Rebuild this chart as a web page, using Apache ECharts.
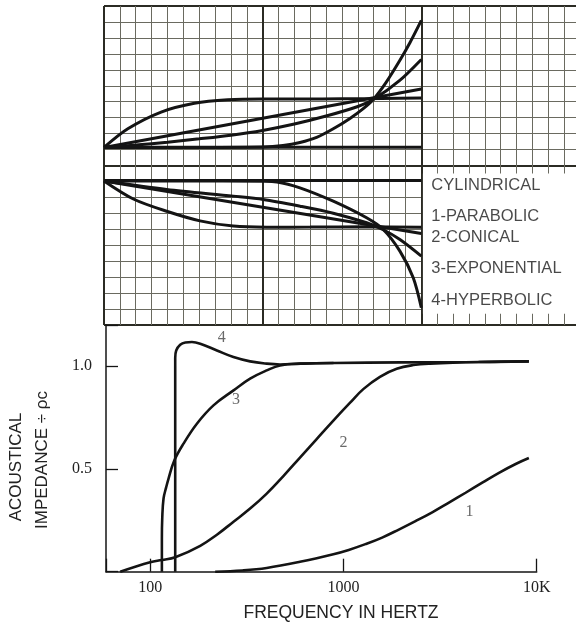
<!DOCTYPE html>
<html><head><meta charset="utf-8">
<script src="https://cdn.jsdelivr.net/npm/echarts@6/dist/echarts.min.js"></script>
<style>html,body{margin:0;padding:0;background:#fff}#c{width:576px;height:622px}</style>
</head><body><div id="c"></div><script>
// ---- Horn profiles (grid units: x along horn, y = radius, centre line at 0) ----
const cylUpper = [[0,1.15],[20,1.15]];
const cylLower = [[0,-0.94],[20,-0.94]];
const parUpper = [[0,1.13],[1.5,2.3],[3.6,3.35],[5.7,3.9],[7.8,4.12],[10,4.17],[12.5,4.17],[15,4.18],[17.5,4.2],[20,4.23]];
const parLower = [[0,-0.97],[1.85,-2.1],[3.95,-2.87],[6.05,-3.47],[8.15,-3.8],[10.25,-3.87],[13,-3.86],[16.5,-3.84],[20,-3.87]];
const conUpper = [[0,1.13],[20,4.80]];
const conLower = [[0,-0.97],[20,-4.26]];
const expUpper = [[0,1.13],[2,1.28],[4,1.46],[6,1.67],[8,1.9],[10,2.2],[12,2.6],[14,3.1],[16,3.7],[17,4.15],[18.6,5.3],[20,6.65]];
const expLower = [[0,-0.97],[3.95,-1.5],[8.15,-1.92],[10.04,-2.13],[12.35,-2.55],[14.45,-2.99],[16.55,-3.59],[17.6,-4.03],[18.65,-4.64],[20,-5.68]];
const hypUpper = [[0,1.13],[5,1.13],[10,1.16],[11.28,1.25],[12.35,1.44],[13.4,1.76],[14.45,2.3],[15.5,2.95],[16.32,3.55],[16.97,4.14],[17.77,5.2],[18.65,6.6],[19.28,7.7],[20,9.1]];
const hypLower = [[0,-0.97],[5,-0.97],[10,-0.99],[10.9,-1.03],[12.35,-1.40],[14.45,-2.24],[16.55,-3.28],[17.6,-4.01],[18.65,-5.37],[19.49,-7.04],[20,-8.92]];
const profileLabels = [[20.6,-1.27,'CYLINDRICAL'],[20.6,-3.18,'1-PARABOLIC'],[20.6,-4.53,'2-CONICAL'],[20.6,-6.46,'3-EXPONENTIAL'],[20.6,-8.46,'4-HYPERBOLIC']];

// ---- Acoustical impedance vs frequency (Hz, impedance / rho c) ----
const curve1 = [[217,0],[300,0.006],[401,0.018],[596,0.048],[887,0.085],[1065,0.106],[1300,0.134],[1586,0.166],[1935,0.205],[2360,0.246],[2880,0.289],[3514,0.336],[4287,0.384],[5230,0.433],[6380,0.481],[7784,0.524],[9110,0.553]];
const curve2 = [[70,0],[100,0.046],[115,0.057],[134.8,0.07],[181.6,0.126],[221.5,0.18],[270,0.243],[329,0.307],[401,0.38],[489,0.465],[596,0.555],[727,0.645],[887,0.735],[1083,0.822],[1267,0.888],[1545,0.948],[1886,0.987],[2300,1.005],[2805,1.012],[5000,1.02],[9110,1.023]];
const curve3 = [[115,0],[115,0.16],[115.5,0.26],[117.3,0.356],[121,0.41],[124.5,0.453],[133.2,0.54],[148.8,0.623],[174.5,0.72],[212.6,0.809],[270,0.882],[329,0.939],[401,0.979],[470,1.003],[600,1.012],[889,1.015]];
const curve4 = [[134.8,0],[134.8,0.6],[134.8,1.04],[136.4,1.076],[143,1.104],[152,1.115],[164.5,1.117],[181.6,1.109],[221.5,1.076],[269.7,1.044],[329,1.023],[401,1.012],[470,1.008],[600,1.012],[889,1.015],[2000,1.018],[5000,1.02],[9110,1.023]];
const curveLabels = [[235,1.138,'4'],[278,0.838,'3'],[1002,0.626,'2'],[4493,0.291,'1']];
const freqTicks = {100:'100',1000:'1000',10000:'10K'};
const impTicks = {'0.5':'0.5','1':'1.0'};

const INK = '#141414';
function horn(data){
  return {type:'line', xAxisIndex:0, yAxisIndex:0, data:data, symbol:'none', smooth:0.3,
    lineStyle:{color:INK, width:3}, silent:true, z:3};
}
function imp(data){
  return {type:'line', xAxisIndex:1, yAxisIndex:1, data:data, symbol:'none', smooth:0.4,
    lineStyle:{color:INK, width:2.6}, silent:true, z:3};
}
const chart = echarts.init(document.getElementById('c'), null, {renderer:'canvas'});
chart.setOption({
  animation:false,
  backgroundColor:'#fff',
  grid:[
    {left:104, top:6, right:-4, height:319, outerBoundsMode:'none', containLabel:false},
    {left:106, top:325, right:39.3, bottom:50.3, outerBoundsMode:'none', containLabel:false}
  ],
  xAxis:[
    {gridIndex:0, type:'value', min:0, max:30, interval:10,
      axisLine:{show:false}, axisTick:{show:false}, axisLabel:{show:false},
      splitLine:{show:true, lineStyle:{color:'#2b2b24', width:2}},
      minorTick:{show:false, splitNumber:10},
      minorSplitLine:{show:true, lineStyle:{color:'#6a6a60', width:1}}},
    {gridIndex:1, type:'log', logBase:10, min:59.1, max:10000,
      axisLine:{show:true, lineStyle:{color:INK, width:1.5}},
      axisTick:{show:true, inside:true, length:13, lineStyle:{color:INK, width:1.3}},
      axisLabel:{margin:8, color:'#222', fontFamily:'Liberation Serif', fontSize:16,
        formatter:function(v){const r=Math.round(v); return freqTicks[r]||'';}},
      splitLine:{show:false}, minorTick:{show:false}}
  ],
  yAxis:[
    {gridIndex:0, type:'value', min:-10, max:10, interval:10,
      axisLine:{show:false}, axisTick:{show:false}, axisLabel:{show:false},
      splitLine:{show:true, lineStyle:{color:'#2b2b24', width:2}},
      minorTick:{show:false, splitNumber:10},
      minorSplitLine:{show:true, lineStyle:{color:'#6a6a60', width:1}}},
    {gridIndex:1, type:'value', min:0, max:1.2, interval:0.5,
      axisLine:{show:true, lineStyle:{color:INK, width:1.5}},
      axisTick:{show:true, inside:true, length:12, lineStyle:{color:INK, width:1.3}},
      axisLabel:{margin:14, color:'#222', fontFamily:'Liberation Serif', fontSize:16,
        formatter:function(v){return impTicks[String(Math.round(v*10)/10)]||'';}},
      splitLine:{show:false}}
  ],
  graphic:[
    {type:'text', x:341, y:613, silent:true,
      style:{text:'FREQUENCY IN HERTZ', fontFamily:'Liberation Sans', fontSize:17.5, fill:'#222', textAlign:'center', textVerticalAlign:'middle'}},
    {type:'text', x:16, y:467, rotation:Math.PI/2, silent:true,
      style:{text:'ACOUSTICAL', fontFamily:'Liberation Sans', fontSize:17, fill:'#222', textAlign:'center', textVerticalAlign:'middle'}},
    {type:'text', x:42, y:460, rotation:Math.PI/2, silent:true,
      style:{text:'IMPEDANCE ÷ ρc', fontFamily:'Liberation Sans', fontSize:17, fill:'#222', textAlign:'center', textVerticalAlign:'middle'}}
  ],
  series:[
    {type:'line', xAxisIndex:0, yAxisIndex:0, data:[], symbol:'none', silent:true, z:1,
      markArea:{silent:true, itemStyle:{color:'#ffffff', opacity:1},
        data:[[{coord:[20.1,-0.5]},{coord:[30,-9.3]}]]}},
    horn(cylUpper), horn(cylLower),
    horn(parUpper), horn(parLower),
    horn(conUpper), horn(conLower),
    horn(expUpper), horn(expLower),
    horn(hypUpper), horn(hypLower),
    {type:'scatter', xAxisIndex:0, yAxisIndex:0, data:profileLabels, symbolSize:1,
      itemStyle:{color:'transparent'}, silent:true, z:5,
      label:{show:true, position:'right', distance:0, color:'#1a1a1a',
        fontFamily:'Liberation Sans', fontSize:16.5, formatter:function(p){return p.value[2];}}},
    imp(curve1), imp(curve2), imp(curve3), imp(curve4),
    {type:'scatter', xAxisIndex:1, yAxisIndex:1, data:curveLabels, symbolSize:1,
      itemStyle:{color:'transparent'}, silent:true, z:5,
      label:{show:true, position:'inside', color:'#444',
        fontFamily:'Liberation Serif', fontSize:16, formatter:function(p){return p.value[2];}}}
  ]
});
</script></body></html>
